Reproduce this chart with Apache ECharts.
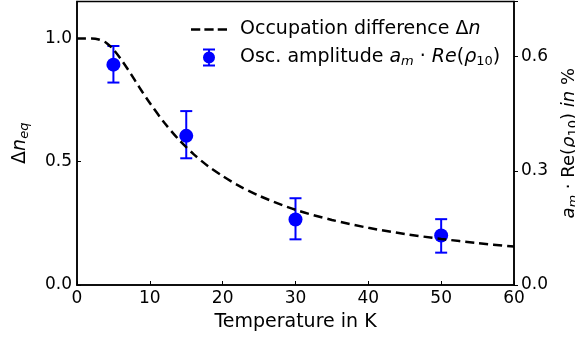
<!DOCTYPE html>
<html>
<head>
<meta charset="utf-8">
<script src="https://cdn.jsdelivr.net/npm/echarts@6/dist/echarts.min.js"></script>
<style>
  html, body { margin: 0; padding: 0; background: #fff; }
  #chart { width: 575px; height: 342px; }
</style>
</head>
<body>
<div id="chart"></div>
<script>
// Occupation difference curve (left axis)
const curveTemps = [0, 1, 2, 3, 4, 5, 6, 7, 8, 9, 10, 12, 14, 16, 18, 20, 22, 25, 30, 35, 40, 45, 50, 55, 60];
const deltaN = [1.0, 1.0, 1.0, 0.996, 0.983, 0.955, 0.917, 0.874, 0.828, 0.782, 0.738, 0.658, 0.589, 0.531, 0.482, 0.442, 0.406, 0.362, 0.305, 0.264, 0.232, 0.207, 0.187, 0.17, 0.156];

// Oscillation amplitude points (right axis, %)
const ampTemps = [5, 15, 30, 50];
const ampValues = [0.579, 0.392, 0.172, 0.130];
const ampLow = [0.532, 0.333, 0.120, 0.085];
const ampHigh = [0.628, 0.457, 0.228, 0.173];

const leftTicks = [0, 0.5, 1.0];
const rightTicks = [0, 0.3, 0.6];

const FONT = "DejaVu Sans";
const BLUE = "#0000ff";

const mathRich = (size) => ({
  r: { fontFamily: FONT, fontSize: size, color: "#000", lineHeight: 22 },
  i: { fontFamily: FONT, fontSize: size, fontStyle: "italic", color: "#000", lineHeight: 22 },
  s: { fontFamily: FONT, fontSize: Math.round(size * 0.7), fontStyle: "italic", color: "#000", lineHeight: 14, verticalAlign: "bottom" },
  su: { fontFamily: FONT, fontSize: Math.round(size * 0.7), color: "#000", lineHeight: 14, verticalAlign: "bottom" },
});

const legendLabels = {
  dn: "{r|Occupation difference Δ}{i|n}",
  amp: "{r|Osc. amplitude }{i|a}{s|m}{r| · }{i|Re}{r|(}{i|ρ}{su|10}{r|)}",
};

const chart = echarts.init(document.getElementById("chart"), null, { renderer: "canvas" });

const option = {
  animation: false,
  backgroundColor: "#fff",
  grid: {
    left: 77, right: 61, top: 1.5, bottom: 57,
    containLabel: false, outerBoundsMode: "none",
    show: true, borderColor: "#000", borderWidth: 1.5, backgroundColor: "transparent",
  },
  legend: {
    left: 186, top: 15,
    orient: "vertical",
    itemWidth: 36, itemHeight: 18, itemGap: 9,
    symbolKeepAspect: true,
    data: [
      { name: "dn", icon: "path://M0,0H9V2.5H0Z M13,0H22V2.5H13Z M26,0H35V2.5H26Z", itemStyle: { color: "#000" } },
      { name: "amp", icon: "path://M0.5,0H12.5V2H0.5Z M0.5,16H12.5V18H0.5Z M5.5,0H7.5V18H5.5Z M6.5,3A6,6 0 1 1 6.49,3Z", itemStyle: { color: BLUE, opacity: 1 } },
    ],
    formatter: (name) => legendLabels[name],
    textStyle: { fontFamily: FONT, fontSize: 19, color: "#000", padding: [0, 0, 0, 8], rich: mathRich(19) },
  },
  xAxis: {
    type: "value", min: 0, max: 60, interval: 10,
    name: "Temperature in K", nameLocation: "middle", nameGap: 28,
    nameTextStyle: { fontFamily: FONT, fontSize: 19, color: "#000" },
    axisLine: { show: true, lineStyle: { color: "#000", width: 1.5 } },
    axisTick: { show: true, inside: true, length: 4, lineStyle: { color: "#000", width: 1 } },
    axisLabel: { fontFamily: FONT, fontSize: 17, color: "#000", margin: 5 },
    splitLine: { show: false },
  },
  yAxis: [
    {
      type: "value", min: 0, max: 1.15, interval: 0.5,
      name: "{r|Δ}{i|n}{s|eq}", nameLocation: "middle", nameGap: 46, nameRotate: 90,
      nameTextStyle: { fontFamily: FONT, fontSize: 19, color: "#000", rich: mathRich(19) },
      axisLine: { show: true, lineStyle: { color: "#000", width: 1.5 } },
      axisTick: { show: true, inside: true, length: 4, lineStyle: { color: "#000", width: 1 } },
      axisLabel: {
        fontFamily: FONT, fontSize: 17, color: "#000", margin: 5,
        formatter: (v) => leftTicks.some((t) => Math.abs(t - v) < 1e-9) ? v.toFixed(1) : "",
      },
      splitLine: { show: false },
    },
    {
      type: "value", min: 0, max: 0.745, interval: 0.3, position: "right",
      name: "{i|a}{s|m}{r| · Re(}{i|ρ}{su|10}{r|) }{i|in}{r| %}", nameLocation: "middle", nameGap: 44, nameRotate: 90,
      nameTextStyle: { fontFamily: FONT, fontSize: 18, color: "#000", rich: mathRich(18) },
      axisLine: { show: true, lineStyle: { color: "#000", width: 1.5 } },
      axisTick: { show: true, inside: false, length: 4, lineStyle: { color: "#000", width: 1 } },
      axisLabel: {
        fontFamily: FONT, fontSize: 17, color: "#000", margin: 7,
        formatter: (v) => rightTicks.some((t) => Math.abs(t - v) < 1e-9) ? v.toFixed(1) : "",
      },
      splitLine: { show: false },
    },
  ],
  series: [
    {
      name: "amp_err",
      type: "custom",
      yAxisIndex: 1,
      z: 2,
      data: ampTemps.map((t, i) => [t, ampLow[i], ampHigh[i]]),
      encode: { x: 0, y: [1, 2] },
      renderItem: (params, api) => {
        const x = api.value(0);
        const lo = api.coord([x, api.value(1)]);
        const hi = api.coord([x, api.value(2)]);
        const w = 6;
        const st = { stroke: BLUE, lineWidth: 2 };
        return {
          type: "group",
          children: [
            { type: "line", shape: { x1: lo[0], y1: lo[1], x2: hi[0], y2: hi[1] }, style: st },
            { type: "line", shape: { x1: hi[0] - w, y1: hi[1], x2: hi[0] + w, y2: hi[1] }, style: st },
            { type: "line", shape: { x1: lo[0] - w, y1: lo[1], x2: lo[0] + w, y2: lo[1] }, style: st },
          ],
        };
      },
    },
    {
      name: "amp",
      type: "scatter",
      yAxisIndex: 1,
      z: 3,
      symbol: "circle",
      symbolSize: 14,
      itemStyle: { color: BLUE, opacity: 1 },
      data: ampTemps.map((t, i) => [t, ampValues[i]]),
    },
    {
      name: "dn",
      type: "line",
      yAxisIndex: 0,
      z: 4,
      smooth: 0.3,
      showSymbol: false,
      symbol: "none",
      lineStyle: { color: "#000", width: 2.5, type: [9, 5] },
      itemStyle: { color: "#000" },
      data: curveTemps.map((t, i) => [t, deltaN[i]]),
    },
  ],
};

chart.setOption(option);
</script>
</body>
</html>
